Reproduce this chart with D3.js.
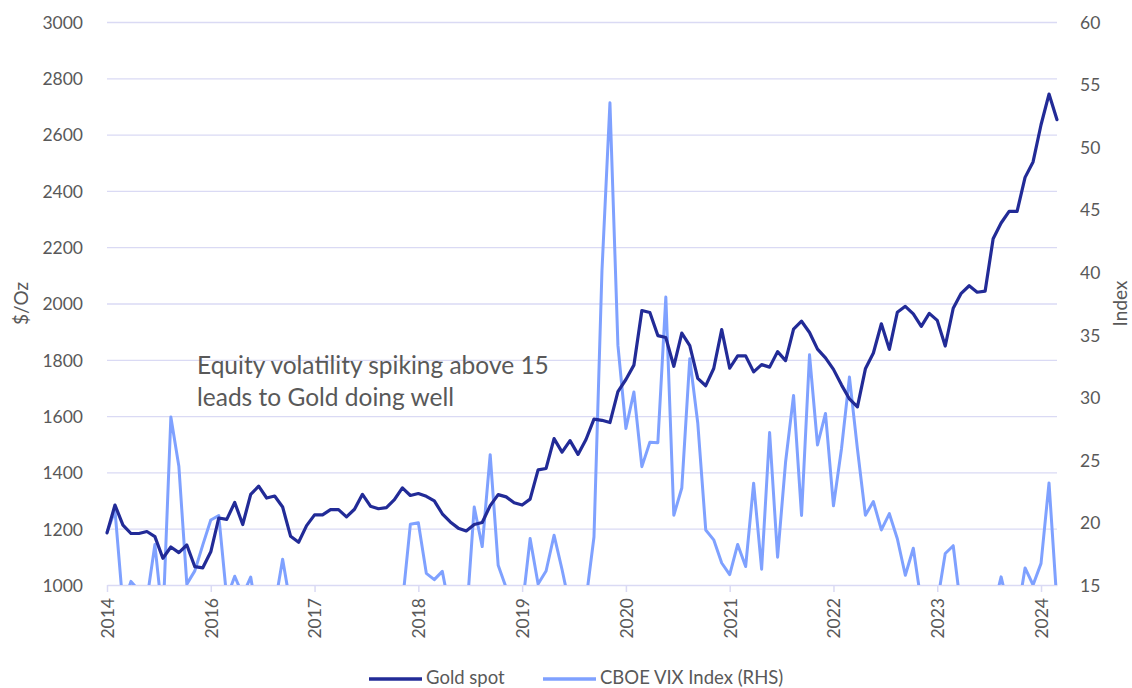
<!DOCTYPE html>
<html>
<head>
<meta charset="utf-8">
<script src="https://cdn.jsdelivr.net/npm/d3@7"></script>
<style>
  body { margin: 0; background: #fff; }
  text { font-family: Lato, "Open Sans", sans-serif; fill: #595959; }
</style>
</head>
<body>
<div id="canvas"></div>
<script>
"use strict"

let svgWidth = 1132
let svgHeight = 688
let margin = {top: 22, right: 75, bottom: 103, left: 107}

/* monthly categories, Dec 2014 .. Nov 2024 */
let months = d3.timeMonth.range(new Date(2014, 11, 1), new Date(2024, 11, 1))

/* Gold spot, $/oz, month end */
let gold = [1185,
  1284,1213,1183,1183,1190,1172,1095,1135,1115,1142,1065,1061,
  1118,1238,1233,1293,1215,1322,1351,1309,1316,1277,1173,1152,
  1211,1249,1249,1268,1268,1242,1269,1322,1280,1271,1275,1303,
  1345,1318,1325,1315,1299,1253,1224,1202,1192,1215,1222,1282,
  1321,1313,1292,1284,1305,1409,1414,1520,1472,1513,1464,1517,
  1589,1585,1577,1687,1730,1781,1975,1968,1886,1879,1777,1895,
  1850,1734,1708,1769,1907,1770,1814,1814,1757,1783,1774,1829,
  1797,1909,1937,1897,1838,1807,1766,1711,1661,1633,1768,1824,
  1928,1837,1969,1990,1963,1919,1965,1940,1849,1983,2036,2063,
  2040,2044,2230,2286,2327,2327,2448,2503,2635,2744,2653]

/* CBOE VIX, month end */
let vix = [19.2,
  20.97,13.34,15.29,14.55,13.84,18.23,12.12,28.43,24.5,15.07,16.13,18.21,
  20.2,20.55,13.95,15.7,14.19,15.63,11.87,13.42,13.29,17.06,13.33,14.04,
  11.99,12.92,12.37,10.82,10.41,11.18,10.26,10.59,9.51,10.18,11.28,11.04,
  13.54,19.85,19.97,15.93,15.43,16.09,12.83,12.86,12.12,21.23,18.07,25.42,
  16.57,14.78,13.71,13.12,18.71,15.08,16.12,18.98,16.24,13.22,12.62,13.78,
  18.84,40.11,53.54,34.15,27.51,30.43,24.46,26.41,26.37,38.02,20.57,22.75,
  33.09,27.95,19.4,18.61,16.76,15.83,18.24,16.48,23.14,16.26,27.19,17.22,
  24.83,30.15,20.56,33.4,26.19,28.71,21.33,25.87,31.62,25.88,20.58,21.67,
  19.4,20.7,18.7,15.78,17.94,13.59,13.63,13.57,17.52,18.14,12.92,12.45,
  14.35,13.4,13.01,15.65,12.92,12.44,16.36,15.0,16.73,23.16,13.51]

/* axis labels: every 13th category is labelled */
let labelStep = 13
let yearLabels = ["2014","2016","2017","2018","2019","2020","2021","2022","2023","2024"]
let goldTicks = [1000,1200,1400,1600,1800,2000,2200,2400,2600,2800,3000]
let vixTicks = [15,20,25,30,35,40,45,50,55,60]

let goldColor = "#222b97"
let vixColor = "#7fa1ff"
let gridColor = "#dadaf4"

let svg = d3.select("#canvas")
  .append("svg")
  .attr("width", svgWidth)
  .attr("height", svgHeight)

/* scales */
let xScale = d3.scalePoint()
  .domain(d3.range(months.length))
  .range([margin.left, svgWidth - margin.right])

let yGold = d3.scaleLinear()
  .domain([1000, 3000])
  .range([svgHeight - margin.bottom, margin.top])

let yVix = d3.scaleLinear()
  .domain([15, 60])
  .range([svgHeight - margin.bottom, margin.top])

/* gridlines */
svg.append("g")
  .attr("transform", "translate(" + margin.left + ",0)")
  .call(d3.axisLeft(yGold).tickValues(goldTicks.slice(1))
        .tickSize(-(svgWidth - margin.left - margin.right)).tickFormat(""))
  .call(g => g.select(".domain").remove())
  .call(g => g.selectAll("line").attr("stroke", gridColor).attr("stroke-width", 1.3))

/* left axis labels */
svg.append("g")
  .attr("transform", "translate(" + (margin.left - 21) + ",0)")
  .call(d3.axisLeft(yGold).tickValues(goldTicks).tickSize(0).tickFormat(d3.format("d")))
  .call(g => g.select(".domain").remove())
  .call(g => g.selectAll("text").attr("font-size", "17.5px").attr("fill", "#595959")
        .attr("font-family", "Lato").attr("dy", "0.36em"))

/* right axis labels */
svg.append("g")
  .attr("transform", "translate(" + (svgWidth - margin.right + 20) + ",0)")
  .call(d3.axisRight(yVix).tickValues(vixTicks).tickSize(0))
  .call(g => g.select(".domain").remove())
  .call(g => g.selectAll("text").attr("font-size", "17.5px").attr("fill", "#595959")
        .attr("font-family", "Lato").attr("dy", "0.36em"))

/* bottom axis */
let xAxis = svg.append("g")
  .attr("transform", "translate(0," + (svgHeight - margin.bottom) + ")")
  .call(d3.axisBottom(xScale)
        .tickValues(d3.range(0, months.length, labelStep))
        .tickSize(7)
        .tickSizeOuter(0)
        .tickFormat((d, i) => yearLabels[i]))

xAxis.select(".domain").attr("stroke", gridColor).attr("stroke-width", 1.5)
xAxis.selectAll(".tick line").attr("stroke", gridColor).attr("stroke-width", 1.5)
xAxis.selectAll(".tick text")
  .attr("font-size", "17.5px")
  .attr("font-family", "Lato")
  .attr("fill", "#595959")
  .attr("text-anchor", "end")
  .attr("transform", "rotate(-90)")
  .attr("x", -13)
  .attr("y", 0)
  .attr("dy", "0.36em")

/* clip so VIX below 15 disappears */
svg.append("clipPath")
  .attr("id", "plotClip")
  .append("rect")
  .attr("x", margin.left - 5)
  .attr("y", 0)
  .attr("width", svgWidth - margin.left - margin.right + 10)
  .attr("height", svgHeight - margin.bottom)

let plot = svg.append("g").attr("clip-path", "url(#plotClip)")

plot.append("path")
  .datum(vix)
  .attr("fill", "none")
  .attr("stroke", vixColor)
  .attr("stroke-width", 3)
  .attr("stroke-linejoin", "round")
  .attr("d", d3.line().x((d, i) => xScale(i)).y(d => yVix(d)))

plot.append("path")
  .datum(gold)
  .attr("fill", "none")
  .attr("stroke", goldColor)
  .attr("stroke-width", 3.2)
  .attr("stroke-linejoin", "round")
  .attr("stroke-linecap", "round")
  .attr("d", d3.line().x((d, i) => xScale(i)).y(d => yGold(d)))

/* axis titles */
svg.append("text")
  .attr("transform", "translate(21," + ((margin.top + svgHeight - margin.bottom) / 2) + ") rotate(-90)")
  .attr("text-anchor", "middle")
  .attr("dy", "0.35em")
  .attr("font-size", "19px")
  .text("$/Oz")

svg.append("text")
  .attr("transform", "translate(1120," + ((margin.top + svgHeight - margin.bottom) / 2) + ") rotate(-90)")
  .attr("text-anchor", "middle")
  .attr("dy", "0.35em")
  .attr("font-size", "19px")
  .text("Index")

/* annotation */
svg.append("text")
  .attr("x", 197)
  .attr("y", 374)
  .attr("font-size", "24.5px")
  .text("Equity volatility spiking above 15")

svg.append("text")
  .attr("x", 197)
  .attr("y", 406)
  .attr("font-size", "24.5px")
  .text("leads to Gold doing well")

/* legend */
let legend = [
  {name: "Gold spot", color: goldColor, x: 369},
  {name: "CBOE VIX Index (RHS)", color: vixColor, x: 543}
]

legend.forEach(function(d) {
  svg.append("line")
    .attr("x1", d.x).attr("x2", d.x + 53)
    .attr("y1", 679).attr("y2", 679)
    .attr("stroke", d.color)
    .attr("stroke-width", 3.5)
  svg.append("text")
    .attr("x", d.x + 57)
    .attr("y", 684)
    .attr("font-size", "18.5px")
    .text(d.name)
})
</script>
</body>
</html>
